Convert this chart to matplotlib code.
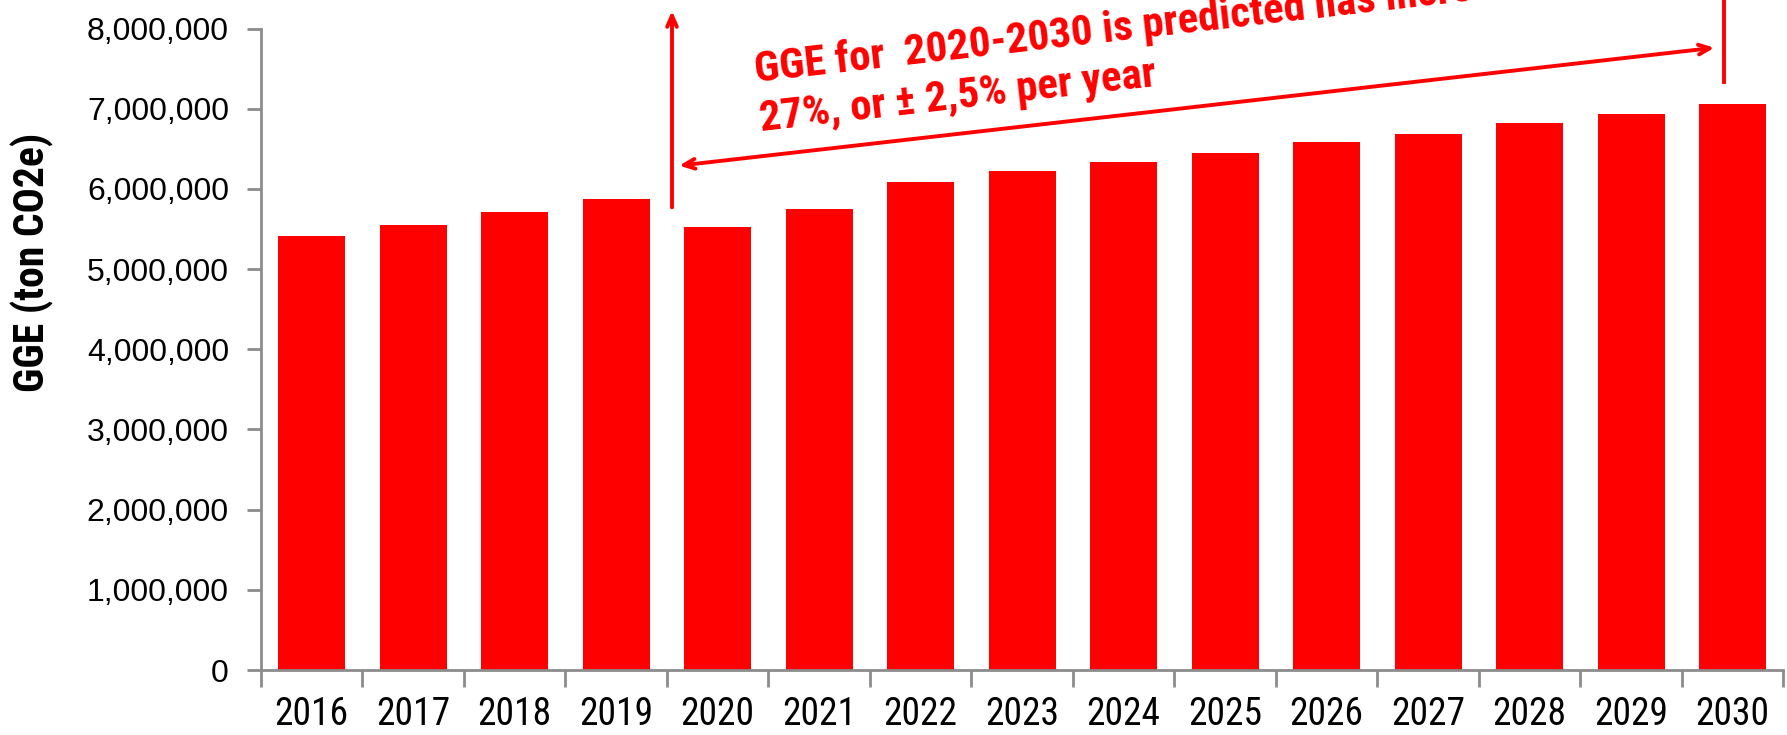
import matplotlib
matplotlib.use("Agg")
import matplotlib.pyplot as plt
from matplotlib import font_manager as fm
from matplotlib.ticker import FuncFormatter, FixedLocator
import numpy as np

years = ["2016", "2017", "2018", "2019", "2020", "2021", "2022", "2023",
         "2024", "2025", "2026", "2027", "2028", "2029", "2030"]
gge = [5410000, 5550000, 5710000, 5870000, 5530000, 5750000, 6090000, 6220000,
       6340000, 6450000, 6580000, 6690000, 6820000, 6930000, 7060000]
yticks = [0, 1000000, 2000000, 3000000, 4000000, 5000000, 6000000, 7000000, 8000000]
note = "GGE for  2020-2030 is predicted has increased by\n27%, or \u00b1 2,5% per year"
ylabel = "GGE (ton CO2e)"

_fonts = fm.fontManager.ttflist
_pref = ["Liberation Sans Narrow", "Arial Narrow", "Roboto Condensed", "PT Sans Narrow",
         "Archivo Narrow", "Asap Condensed", "Liberation Sans"]


def _pick(bold):
    for n in _pref:
        ws = [f.weight for f in _fonts if f.name == n]
        ws = [w if isinstance(w, int) else (700 if w == "bold" else 400) for w in ws]
        if ws and (not bold or max(ws) >= 700) and (bold or min(ws) <= 400):
            return n
    return "DejaVu Sans"


narrow = [_pick(False), "DejaVu Sans"]
narrow_bold = [_pick(True), "DejaVu Sans"]
regular = ["Liberation Sans", "DejaVu Sans"]

RED = "#ff0000"
GREY = "#8c8c8c"

fig = plt.figure(figsize=(17.87, 7.35), dpi=100)
ax = fig.add_axes([0.146, 0.0884, 0.852, 0.8728])

x = np.arange(len(years))
ax.bar(x, gge, width=0.66, color=RED, zorder=2)

ax.set_xlim(-0.5, len(years) - 0.5)
ax.set_ylim(0, 8000000)
ax.yaxis.set_major_locator(FixedLocator(yticks))
ax.yaxis.set_major_formatter(FuncFormatter(lambda v, p: f"{int(v):,}"))
ax.set_xticks(x)
ax.set_xticklabels(years, fontfamily=narrow, fontsize=27)
ax.set_xticks(np.arange(len(years) + 1) - 0.5, minor=True)
ax.tick_params(axis="x", which="major", length=0, pad=19)
ax.tick_params(axis="x", which="minor", length=12, width=2, color=GREY)
ax.tick_params(axis="y", length=10, width=2, color=GREY, labelsize=23, pad=13)
for lab in ax.get_yticklabels():
    lab.set_fontfamily(regular)

for s in ["top", "right"]:
    ax.spines[s].set_visible(False)
for s in ["left", "bottom"]:
    ax.spines[s].set_color(GREY)
    ax.spines[s].set_linewidth(2)

ax.set_ylabel(ylabel, fontfamily=narrow_bold, fontsize=30, fontweight="bold")
ax.yaxis.set_label_coords(-0.136, 0.636)

# annotations
ax.annotate("", xy=(3.55, 8220000), xytext=(3.55, 5770000),
            arrowprops=dict(arrowstyle="->,head_length=0.8,head_width=0.35", color=RED, lw=2.8,
                            shrinkA=0, shrinkB=0),
            annotation_clip=False)
ax.annotate("", xy=(13.82, 7760000), xytext=(3.62, 6290000),
            arrowprops=dict(arrowstyle="<->,head_length=0.8,head_width=0.35", color=RED, lw=2.8,
                            shrinkA=0, shrinkB=0),
            annotation_clip=False)
ax.plot([13.91, 13.91], [7330000, 8500000], color=RED, lw=2.8, clip_on=False)
ax.text(4.42, 6830000, note, color=RED, fontfamily=narrow_bold, fontsize=31, fontweight="bold",
        rotation=6.5, rotation_mode="anchor", ha="left", va="baseline", linespacing=1.28,
        multialignment="left", clip_on=False)

fig.savefig("out.png", dpi=100)
